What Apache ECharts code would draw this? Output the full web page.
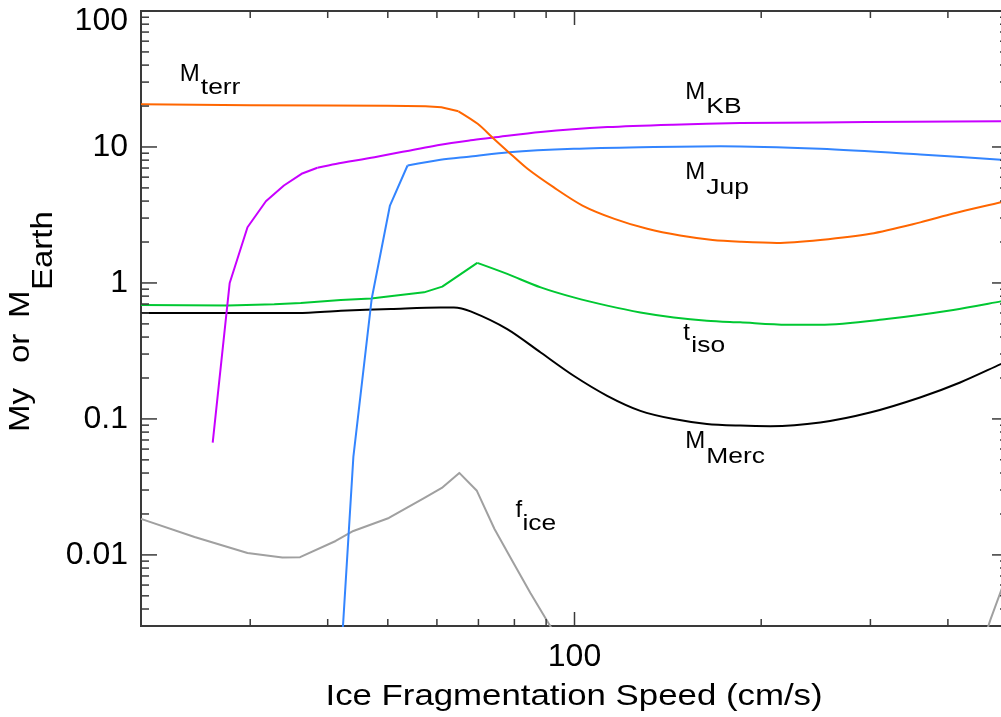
<!DOCTYPE html>
<html>
<head>
<meta charset="utf-8">
<script src="https://cdn.jsdelivr.net/npm/echarts@6/dist/echarts.min.js"></script>
<style>
  html, body { margin: 0; padding: 0; background: #fff; }
  #chart { width: 1001px; height: 717px; }
</style>
</head>
<body>
<div id="chart"></div>
<script>
// ---- data: ice fragmentation speed (cm/s) vs masses / timescale ----
const terrSpeed = [20, 30, 40, 50, 57.5, 61, 65, 69.8, 73.8, 78.3, 84, 92.5, 103, 116, 131, 148, 167, 185, 212, 249, 300, 361, 408, 487, 500];
const terrMass  = [20.6, 20.3, 20.2, 20.1, 19.9, 19.6, 18.3, 14.8, 11.7, 9.16, 6.91, 5.06, 3.71, 2.96, 2.50, 2.23, 2.07, 2.01, 1.97, 2.07, 2.30, 2.79, 3.24, 3.92, 4.04];

const kbSpeed = [26.1, 27.8, 29.7, 31.8, 34.0, 36.3, 38.5, 41.2, 47.6, 60.8, 68, 73.7, 88.2, 113, 144, 185, 250, 350, 500];
const kbMass  = [0.067, 1.0, 2.57, 3.99, 5.21, 6.35, 7.03, 7.50, 8.41, 10.4, 11.2, 11.7, 12.9, 14.0, 14.6, 15.0, 15.15, 15.35, 15.5];

const jupSpeed = [41.2, 44.0, 47.1, 50.4, 53.8, 60.8, 68, 78.4, 99.7, 127.7, 172, 249, 361, 487, 500];
const jupMass  = [0.0004, 0.0526, 0.766, 3.71, 7.31, 8.05, 8.51, 9.16, 9.70, 9.97, 10.14, 9.70, 8.81, 8.05, 7.98];

const isoSpeed = [20, 27.6, 32.8, 36.2, 42.0, 47.0, 51.2, 57.2, 61.2, 69.7, 77.9, 88.2, 99.7, 112.9, 127.7, 144.6, 163.5, 185, 220, 249, 318.6, 408, 487, 500];
const isoTime  = [0.689, 0.684, 0.696, 0.712, 0.750, 0.770, 0.806, 0.853, 0.939, 1.404, 1.165, 0.928, 0.783, 0.681, 0.607, 0.558, 0.528, 0.513, 0.493, 0.493, 0.543, 0.633, 0.732, 0.75];

const mercSpeed = [20, 35.8, 42.0, 50.6, 60.8, 63.9, 68.0, 77.9, 88.2, 99.7, 112.9, 127.7, 144.6, 163.5, 185, 206.8, 249, 299.6, 360.7, 418.6, 487, 500];
const mercMass  = [0.601, 0.601, 0.625, 0.644, 0.661, 0.661, 0.618, 0.458, 0.308, 0.2077, 0.148, 0.1147, 0.0997, 0.0918, 0.0893, 0.0885, 0.0941, 0.1114, 0.1438, 0.1854, 0.2532, 0.267];

const iceSpeedLow = [20, 24.4, 29.7, 33.8, 36.1, 41.2, 44.0, 50.2, 57.2, 61.1, 65.2, 69.6, 74.3, 79.4, 84.9, 90.7, 97];
const iceFracLow  = [0.0184, 0.01355, 0.01033, 0.00957, 0.00963, 0.01266, 0.0150, 0.0187, 0.0262, 0.0311, 0.0401, 0.0296, 0.0155, 0.00902, 0.00524, 0.00317, 0.00194];
const iceSpeedHigh = [438, 468, 500];
const iceFracHigh  = [0.0013, 0.0033, 0.0075];

// ---- axis ticks ----
const xMajorTicks = [100];
const xMajorLabels = ['100'];
const xMinorTicks = [30, 40, 50, 60, 70, 80, 90, 200, 300, 400];
const yMajorTicks = [0.01, 0.1, 1, 10, 100];
const yMajorLabels = ['0.01', '0.1', '1', '10', '100'];
const yMinorTicks = [0.004, 0.005, 0.006, 0.007, 0.008, 0.009,
                     0.02, 0.03, 0.04, 0.05, 0.06, 0.07, 0.08, 0.09,
                     0.2, 0.3, 0.4, 0.5, 0.6, 0.7, 0.8, 0.9,
                     2, 3, 4, 5, 6, 7, 8, 9,
                     20, 30, 40, 50, 60, 70, 80, 90];

// ---- curve annotations (anchor in data units: speed, value) ----
const curveLabels = [
  { main: 'M', sub: 'terr', at: [23.1, 34.2],   subDx: 21, subDy: 14 },
  { main: 'M', sub: 'KB',   at: [150.9, 25.4],  subDx: 21, subDy: 15 },
  { main: 'M', sub: 'Jup',  at: [150.9, 6.49],  subDx: 21, subDy: 15 },
  { main: 't', sub: 'iso',  at: [149.8, 0.423], subDx: 8,  subDy: 12 },
  { main: 'M', sub: 'Merc', at: [150.9, 0.0678], subDx: 21, subDy: 15 },
  { main: 'f', sub: 'ice',  at: [80.3, 0.0214], subDx: 7,  subDy: 14 }
];

const X_MIN = 20, X_MAX = 500, Y_MIN = 0.003, Y_MAX = 100;
const FONT = '"Liberation Sans", Arial, Helvetica, sans-serif';
const AXIS_COLOR = '#3a3a3a';

function pairs(xs, ys) { return xs.map((x, i) => [x, ys[i]]); }

// a curve drawn as straight segments up to index `bend`, smooth afterwards
function curve(name, xs, ys, color, bend) {
  const all = pairs(xs, ys);
  const base = {
    name, type: 'line', showSymbol: false, symbol: 'none', clip: true, z: 3,
    lineStyle: { color, width: 2, join: 'round' }, emphasis: { disabled: true }
  };
  if (bend == null) return [Object.assign({ data: all }, base)];
  const out = [];
  if (bend > 0) out.push(Object.assign({ data: all.slice(0, bend + 1) }, base));
  out.push(Object.assign({ data: all.slice(bend), smooth: 0.3 }, base));
  return out;
}

// inward tick marks on all four sides of the plot box
function tickSeries(values, dim, len) {
  return {
    type: 'custom', silent: true, clip: false, z: 6,
    data: values.map(v => dim === 'x' ? [v, Y_MIN] : [X_MIN, v]),
    renderItem(params, api) {
      const cs = params.coordSys;
      const p = api.coord([api.value(0), api.value(1)]);
      const st = { stroke: AXIS_COLOR, lineWidth: 1.5 };
      if (dim === 'x') {
        const x = p[0], yb = cs.y + cs.height, yt = cs.y;
        return { type: 'group', children: [
          { type: 'line', shape: { x1: x, y1: yb, x2: x, y2: yb - len }, style: st },
          { type: 'line', shape: { x1: x, y1: yt, x2: x, y2: yt + len }, style: st }
        ]};
      }
      const y = p[1], xl = cs.x, xr = cs.x + cs.width;
      return { type: 'group', children: [
        { type: 'line', shape: { x1: xl, y1: y, x2: xl + len, y2: y }, style: st },
        { type: 'line', shape: { x1: xr, y1: y, x2: xr - len, y2: y }, style: st }
      ]};
    }
  };
}

function tickLabelSeries(values, labels, dim) {
  return {
    type: 'custom', silent: true, clip: false, z: 6,
    data: values.map(v => dim === 'x' ? [v, Y_MIN] : [X_MIN, v]),
    renderItem(params, api) {
      const cs = params.coordSys;
      const p = api.coord([api.value(0), api.value(1)]);
      const text = labels[params.dataIndex];
      const base = { text, fontSize: 32, fontFamily: FONT, fill: '#000', verticalAlign: 'middle' };
      if (dim === 'x') {
        return { type: 'text', x: p[0], y: cs.y + cs.height + 31, style: Object.assign({ align: 'center' }, base) };
      }
      return { type: 'text', x: cs.x - 13, y: Math.max(p[1], cs.y + 10), style: Object.assign({ align: 'right' }, base) };
    }
  };
}

const labelSeries = {
  type: 'custom', silent: true, clip: false, z: 7,
  data: curveLabels.map(l => l.at),
  renderItem(params, api) {
    const L = curveLabels[params.dataIndex];
    const p = api.coord([api.value(0), api.value(1)]);
    return { type: 'group', children: [
      { type: 'text', x: p[0], y: p[1],
        style: { text: L.main, fontSize: 24, fontFamily: FONT, fill: '#000', align: 'left', verticalAlign: 'middle' } },
      { type: 'text', x: p[0] + L.subDx, y: p[1] + L.subDy, scaleX: 1.2,
        style: { text: L.sub, fontSize: 22, fontFamily: FONT, fill: '#000', align: 'left', verticalAlign: 'middle' } }
    ]};
  }
};

const chart = echarts.init(document.getElementById('chart'), null, { renderer: 'canvas' });

const titleStyle = (text, align) => ({ text, fontSize: 30, fontFamily: FONT, fill: '#000', align, verticalAlign: 'middle' });

chart.setOption({
  animation: false,
  backgroundColor: '#fff',
  grid: {
    left: 141, right: -7, top: 11, bottom: 91,
    show: true, borderColor: AXIS_COLOR, borderWidth: 2,
    outerBoundsMode: 'none', containLabel: false
  },
  xAxis: {
    type: 'log', logBase: 10, min: X_MIN, max: X_MAX,
    axisLine: { show: false }, axisTick: { show: false },
    axisLabel: { show: false }, splitLine: { show: false }, minorTick: { show: false }
  },
  yAxis: {
    type: 'log', logBase: 10, min: Y_MIN, max: Y_MAX,
    axisLine: { show: false }, axisTick: { show: false },
    axisLabel: { show: false }, splitLine: { show: false }, minorTick: { show: false }
  },
  graphic: [
    { type: 'text', x: 574, y: 697, scaleX: 1.16, silent: true,
      style: titleStyle('Ice Fragmentation Speed (cm/s)', 'center') },
    { type: 'text', x: 20.5, y: 432, rotation: Math.PI / 2, scaleX: 1.1, silent: true,
      style: titleStyle('My', 'left') },
    { type: 'text', x: 20.5, y: 363, rotation: Math.PI / 2, scaleX: 1.1, silent: true,
      style: titleStyle('or', 'left') },
    { type: 'text', x: 20.5, y: 318, rotation: Math.PI / 2, scaleX: 1.1, silent: true,
      style: titleStyle('M', 'left') },
    { type: 'text', x: 44, y: 290, rotation: Math.PI / 2, scaleX: 1.1, silent: true,
      style: titleStyle('Earth', 'left') }
  ],
  series: [].concat(
    curve('f_ice', iceSpeedLow, iceFracLow, '#a0a0a0'),
    curve('f_ice', iceSpeedHigh, iceFracHigh, '#a0a0a0'),
    curve('M_Merc', mercSpeed, mercMass, '#000000', 0),
    curve('t_iso', isoSpeed, isoTime, '#00c832', 9),
    curve('M_Jup', jupSpeed, jupMass, '#3385ff', 4),
    curve('M_KB', kbSpeed, kbMass, '#c800ff', 6),
    curve('M_terr', terrSpeed, terrMass, '#ff6600', 6),
    [
      tickSeries(xMajorTicks, 'x', 14),
      tickSeries(xMinorTicks, 'x', 7),
      tickSeries(yMajorTicks, 'y', 16),
      tickSeries(yMinorTicks, 'y', 8),
      tickLabelSeries(xMajorTicks, xMajorLabels, 'x'),
      tickLabelSeries(yMajorTicks, yMajorLabels, 'y'),
      labelSeries
    ]
  )
});
</script>
</body>
</html>
